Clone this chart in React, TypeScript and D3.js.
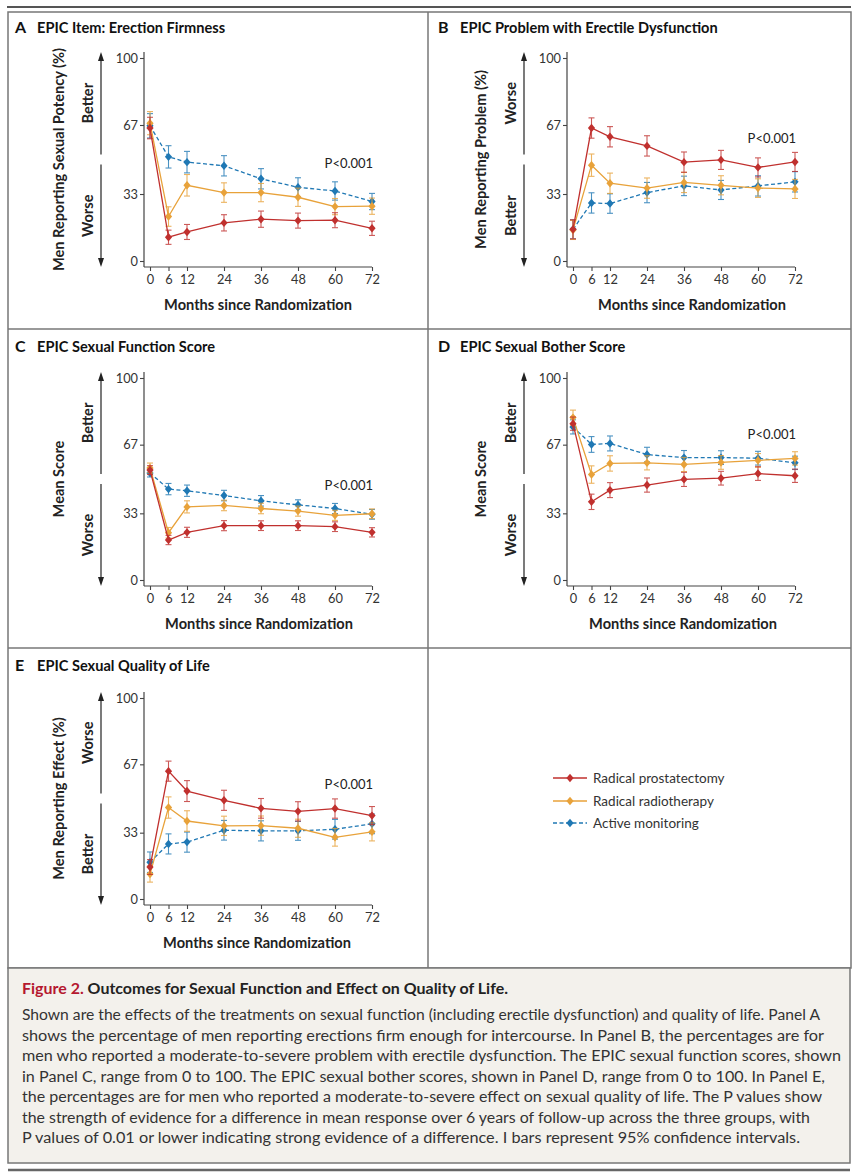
import { useEffect, useRef } from "react";
import * as d3 from "d3";

// shared axes
const months = [0, 6, 12, 24, 36, 48, 60, 72];
const yTicks = [0, 33, 67, 100];
const groupNames = ["Radical prostatectomy", "Radical radiotherapy", "Active monitoring"];
const groupColors = ["#c0302e", "#e8a23a", "#1f78b4"];

// Panel A: erection firmness (%)
const aSurgery = [65.5, 11.7, 14.3, 18.8, 20.6, 19.9, 20.1, 16.1];
const aSurgeryCi = [5.3, 3.5, 3.7, 4, 4, 3.7, 3.7, 3.5];
const aRadio = [67.9, 21.9, 37.3, 33.7, 33.7, 31.4, 26.8, 27.0];
const aRadioCi = [5.7, 4.8, 5.3, 4.8, 4.5, 4.5, 4, 4];
const aMonitor = [66.6, 51.3, 48.7, 46.9, 40.5, 36.3, 34.5, 29.3];
const aMonitorCi = [6, 5.5, 5.3, 5, 5, 4.7, 4.5, 4];

// Panel B: problem with erectile dysfunction (%)
const bSurgery = [15.6, 65.5, 61.2, 56.7, 48.7, 49.8, 46.1, 48.8];
const bSurgeryCi = [4.7, 5, 5, 5, 5, 4.7, 4.7, 4.7];
const bRadio = [15.3, 47.2, 38.3, 35.9, 38.7, 37.3, 35.9, 35.5];
const bRadioCi = [4.7, 5.5, 5, 5, 5, 4.7, 4.6, 4.7];
const bMonitor = [15.6, 28.6, 28.3, 33.7, 37.0, 35.0, 37.0, 39.0];
const bMonitorCi = [4.7, 5, 4.8, 5, 4.8, 4.7, 5, 5];

// Panel C: sexual function score
const cSurgery = [54.4, 19.8, 23.6, 26.9, 26.9, 26.9, 26.4, 23.6];
const cSurgeryCi = [2.2, 2.3, 2.5, 2.5, 2.4, 2.4, 2.4, 2.3];
const cRadio = [55.5, 23.4, 36.2, 36.9, 35.4, 34.1, 32.0, 32.8];
const cRadioCi = [2.4, 2.6, 3, 2.6, 2.6, 2.5, 2.5, 2.4];
const cMonitor = [53.0, 45.0, 44.2, 41.8, 39.2, 37.2, 35.4, 32.5];
const cMonitorCi = [2, 2.8, 2.8, 2.6, 2.6, 2.5, 2.5, 2.4];

// Panel D: sexual bother score
const dSurgery = [77.4, 38.7, 44.5, 47.0, 49.8, 50.4, 52.7, 51.6];
const dSurgeryCi = [3.3, 3.8, 3.7, 3.5, 3.5, 3.4, 3.4, 3.3];
const dRadio = [80.4, 52.2, 57.7, 58.0, 57.2, 58.2, 59.2, 60.2];
const dRadioCi = [3.7, 4.3, 3.8, 3.5, 3.5, 3.4, 3.4, 3.3];
const dMonitor = [75.8, 67.1, 67.6, 62.1, 60.6, 60.6, 60.3, 58.0];
const dMonitorCi = [3.5, 3.9, 3.7, 3.6, 3.5, 3.4, 3.4, 3.3];

// Panel E: sexual quality of life (%)
const eSurgery = [15.9, 63.6, 53.7, 49.1, 45.1, 43.6, 45.0, 41.5];
const eSurgeryCi = [3.7, 5, 5.2, 5, 4.9, 4.8, 4.8, 4.5];
const eRadio = [12.4, 45.5, 38.8, 36.4, 36.5, 35.2, 30.7, 33.4];
const eRadioCi = [4, 5.3, 5.1, 4.8, 4.8, 4.5, 4.4, 4.5];
const eMonitor = [18.3, 27.4, 28.3, 34.2, 33.9, 33.9, 34.7, 37.4];
const eMonitorCi = [5.1, 5, 5, 4.9, 5, 4.7, 4.9, 4.9];

const panelLetters = ["A", "B", "C", "D", "E"];
const panelTitles = [
  "EPIC Item: Erection Firmness",
  "EPIC Problem with Erectile Dysfunction",
  "EPIC Sexual Function Score",
  "EPIC Sexual Bother Score",
  "EPIC Sexual Quality of Life",
];
const yTitles = [
  "Men Reporting Sexual Potency (%)",
  "Men Reporting Problem (%)",
  "Mean Score",
  "Mean Score",
  "Men Reporting Effect (%)",
];
const topLabels = ["Better", "Worse", "Better", "Better", "Worse"];
const bottomLabels = ["Worse", "Better", "Worse", "Worse", "Better"];
const pText = "P<0.001";
const pMonth = [64.5, 64.5, 64.5, 64.5, 64.5];
const pValueY = [48.3, 60.6, 47, 72, 57.2];

const seriesByPanel = [
  [[aSurgery, aSurgeryCi], [aRadio, aRadioCi], [aMonitor, aMonitorCi]],
  [[bSurgery, bSurgeryCi], [bRadio, bRadioCi], [bMonitor, bMonitorCi]],
  [[cSurgery, cSurgeryCi], [cRadio, cRadioCi], [cMonitor, cMonitorCi]],
  [[dSurgery, dSurgeryCi], [dRadio, dRadioCi], [dMonitor, dMonitorCi]],
  [[eSurgery, eSurgeryCi], [eRadio, eRadioCi], [eMonitor, eMonitorCi]],
];

const captionTitleRed = "Figure 2.";
const captionTitle = " Outcomes for Sexual Function and Effect on Quality of Life.";
const captionLines = [
  "Shown are the effects of the treatments on sexual function (including erectile dysfunction) and quality of life. Panel A",
  "shows the percentage of men reporting erections firm enough for intercourse. In Panel B, the percentages are for",
  "men who reported a moderate-to-severe problem with erectile dysfunction. The EPIC sexual function scores, shown",
  "in Panel C, range from 0 to 100. The EPIC sexual bother scores, shown in Panel D, range from 0 to 100. In Panel E,",
  "the percentages are for men who reported a moderate-to-severe effect on sexual quality of life. The P values show",
  "the strength of evidence for a difference in mean response over 6 years of follow-up across the three groups, with",
  "P values of 0.01 or lower indicating strong evidence of a difference. I bars represent 95% confidence intervals.",
];
const captionLineEnds = [820, 824, 841, 825, 822, 810, 800];

const FONT = "Lato, 'Open Sans', sans-serif";

export default function App() {
  const ref = useRef<SVGSVGElement | null>(null);

  useEffect(() => {
    if (!ref.current) return;
    document.body.style.margin = "0";
    const svg = d3.select(ref.current);
    svg.selectAll("*").remove();

    const W = 859;
    const H = 1175;
    svg.attr("width", W).attr("height", H).style("font-family", FONT);

    // layout of the grid cells
    const colAxis = [144, 567];
    const colX0 = [150, 573];
    const colX72 = [372, 795];
    const colYTitle = [59, 481];
    const colArrow = [101, 524];
    const colLabel = [88, 511];
    const colLetter = [15, 438];
    const colTitle = [37, 460];
    const rowY100 = [58, 378, 698];
    const rowY0 = [261, 580, 899];
    const rowTitle = [33, 352, 671];
    const xTitleCenter = [258, 692, 259, 683, 257];

    const boldSize = 14.6;
    const frame = "#777";
    svg.append("rect").attr("x", 0).attr("y", 0).attr("width", W).attr("height", H).attr("fill", "#fff");
    svg.append("line").attr("x1", 7).attr("x2", 851).attr("y1", 7).attr("y2", 7)
      .attr("stroke", "#555").attr("stroke-width", 2);
    svg.append("rect").attr("x", 8).attr("y", 12).attr("width", 843).attr("height", 956)
      .attr("fill", "none").attr("stroke", frame).attr("stroke-width", 1.5);
    [329, 648].forEach((y) => {
      svg.append("line").attr("x1", 8).attr("x2", 851).attr("y1", y).attr("y2", y)
        .attr("stroke", frame).attr("stroke-width", 1.5);
    });
    svg.append("line").attr("x1", 428).attr("x2", 428).attr("y1", 12).attr("y2", 968)
      .attr("stroke", frame).attr("stroke-width", 1.5);

    const diamond = "M0,-4.2L3.6,0L0,4.2L-3.6,0Z";

    seriesByPanel.forEach((series, p) => {
      const col = p % 2;
      const row = Math.floor(p / 2);
      const x = d3.scaleLinear().domain([0, 72]).range([colX0[col], colX72[col]]);
      const y = d3.scaleLinear().domain([0, 100]).range([rowY0[row], rowY100[row]]);
      const g = svg.append("g");
      const axisY = rowY0[row] + 6;
      const axisX = colAxis[col];

      // panel heading
      g.append("text").attr("x", colLetter[col]).attr("y", rowTitle[row])
        .attr("font-size", 16).attr("font-weight", 700).attr("fill", "#111").text(panelLetters[p]);
      g.append("text").attr("x", colTitle[col]).attr("y", rowTitle[row])
        .attr("font-size", boldSize).attr("font-weight", 700).attr("fill", "#111").text(panelTitles[p]);

      // y axis
      const yAxis = g.append("g").attr("transform", `translate(${axisX},0)`)
        .call(d3.axisLeft(y).tickValues(yTicks).tickSize(4).tickPadding(2).tickSizeOuter(0));
      yAxis.select(".domain").remove();
      yAxis.selectAll("line").attr("stroke", "#444").attr("stroke-width", 1.1);
      yAxis.selectAll("text").attr("font-size", 12.8).attr("fill", "#333").style("font-family", FONT);
      g.append("line").attr("x1", axisX).attr("x2", axisX)
        .attr("y1", rowY100[row] - 6).attr("y2", axisY)
        .attr("stroke", "#444").attr("stroke-width", 1.2);

      // x axis
      const xAxis = g.append("g").attr("transform", `translate(0,${axisY})`)
        .call(d3.axisBottom(x).tickValues(months).tickSize(4).tickPadding(4).tickSizeOuter(0));
      xAxis.select(".domain").remove();
      xAxis.selectAll("line").attr("stroke", "#444").attr("stroke-width", 1.1);
      xAxis.selectAll("text").attr("font-size", 12.8).attr("fill", "#333").style("font-family", FONT);
      g.append("line").attr("x1", axisX).attr("x2", x(72))
        .attr("y1", axisY).attr("y2", axisY)
        .attr("stroke", "#444").attr("stroke-width", 1.2);
      g.append("text").attr("x", xTitleCenter[p]).attr("y", axisY + 43)
        .attr("text-anchor", "middle").attr("font-size", boldSize).attr("font-weight", 700)
        .attr("fill", "#222").text("Months since Randomization");

      // y title and arrow
      const top = rowY100[row] - 6;
      const bot = axisY;
      const mid = (top + bot) / 2;
      g.append("text")
        .attr("transform", `translate(${colYTitle[col] + 5},${mid}) rotate(-90)`)
        .attr("text-anchor", "middle").attr("font-size", boldSize).attr("font-weight", 700)
        .attr("fill", "#222").text(yTitles[p]);
      const ax = colArrow[col];
      g.append("line").attr("x1", ax).attr("x2", ax).attr("y1", top + 7).attr("y2", mid - 5)
        .attr("stroke", "#222").attr("stroke-width", 1.2);
      g.append("line").attr("x1", ax).attr("x2", ax).attr("y1", mid + 5).attr("y2", bot - 7)
        .attr("stroke", "#222").attr("stroke-width", 1.2);
      g.append("path").attr("d", `M${ax},${top}L${ax + 3},${top + 9}L${ax - 3},${top + 9}Z`).attr("fill", "#222");
      g.append("path").attr("d", `M${ax},${bot}L${ax + 3},${bot - 9}L${ax - 3},${bot - 9}Z`).attr("fill", "#222");
      g.append("text")
        .attr("transform", `translate(${colLabel[col] + 5},${(top + mid - 5) / 2}) rotate(-90)`)
        .attr("text-anchor", "middle").attr("font-size", boldSize).attr("font-weight", 700)
        .attr("fill", "#222").text(topLabels[p]);
      g.append("text")
        .attr("transform", `translate(${colLabel[col] + 5},${(bot + mid + 5) / 2}) rotate(-90)`)
        .attr("text-anchor", "middle").attr("font-size", boldSize).attr("font-weight", 700)
        .attr("fill", "#222").text(bottomLabels[p]);

      // P value
      g.append("text").attr("x", x(pMonth[p])).attr("y", y(pValueY[p])).attr("dy", "0.36em")
        .attr("text-anchor", "middle").attr("font-size", 13).attr("fill", "#222").text(pText);

      // series: monitoring first, then radiotherapy, then surgery on top
      [2, 1, 0].forEach((s) => {
        const [vals, ci] = series[s] as number[][];
        const color = groupColors[s];
        const pts = months.map((m, i) => ({ m, v: vals[i], c: ci[i] }));
        const sg = g.append("g");
        sg.selectAll("g.err").data(pts).enter().append("g").attr("class", "err")
          .each(function (d) {
            const e = d3.select(this);
            e.append("line").attr("x1", x(d.m)).attr("x2", x(d.m))
              .attr("y1", y(d.v - d.c)).attr("y2", y(d.v + d.c));
            e.append("line").attr("x1", x(d.m) - 3).attr("x2", x(d.m) + 3)
              .attr("y1", y(d.v - d.c)).attr("y2", y(d.v - d.c));
            e.append("line").attr("x1", x(d.m) - 3).attr("x2", x(d.m) + 3)
              .attr("y1", y(d.v + d.c)).attr("y2", y(d.v + d.c));
          })
          .attr("stroke", color).attr("stroke-width", 1.1).attr("opacity", 0.8);
        const line = d3.line<{ m: number; v: number }>().x((d) => x(d.m)).y((d) => y(d.v));
        sg.append("path").attr("d", line(pts)).attr("fill", "none").attr("stroke", color)
          .attr("stroke-width", 1.3).attr("stroke-dasharray", s === 2 ? "4,2.5" : null);
        sg.selectAll("path.pt").data(pts).enter().append("path").attr("class", "pt")
          .attr("d", diamond).attr("transform", (d) => `translate(${x(d.m)},${y(d.v)})`)
          .attr("fill", color);
      });
    });

    // legend in the empty cell
    const legendRows = [778, 801, 823];
    groupNames.forEach((name, i) => {
      const lg = svg.append("g").attr("transform", `translate(553,${legendRows[i]})`);
      lg.append("line").attr("x1", 0).attr("x2", 34).attr("y1", 0).attr("y2", 0)
        .attr("stroke", groupColors[i]).attr("stroke-width", 1.3)
        .attr("stroke-dasharray", i === 2 ? "4,2.5" : null);
      lg.append("path").attr("d", diamond).attr("transform", "translate(17,0)").attr("fill", groupColors[i]);
      lg.append("text").attr("x", 40).attr("y", 0).attr("dy", "0.35em")
        .attr("font-size", 13.5).attr("fill", "#333").text(name);
    });

    // caption
    svg.append("rect").attr("x", 8).attr("y", 968).attr("width", 842).attr("height", 195)
      .attr("fill", "#f3f1ec").attr("stroke", frame).attr("stroke-width", 1.5);
    const ct = svg.append("text").attr("x", 22).attr("y", 994).attr("font-size", 15.5)
      .attr("font-weight", 700).attr("textLength", 486).attr("lengthAdjust", "spacingAndGlyphs");
    ct.append("tspan").attr("fill", "#b5182f").text(captionTitleRed);
    ct.append("tspan").attr("fill", "#222").text(captionTitle);
    captionLines.forEach((t, i) => {
      svg.append("text").attr("x", 22).attr("y", 1020 + i * 20.5)
        .attr("font-size", 14.5).attr("fill", "#333")
        .attr("textLength", captionLineEnds[i] - 22).attr("lengthAdjust", "spacingAndGlyphs")
        .text(t);
    });
    svg.append("line").attr("x1", 8).attr("x2", 850).attr("y1", 1170).attr("y2", 1170)
      .attr("stroke", "#666").attr("stroke-width", 2.5);
  }, []);

  return <svg ref={ref} style={{ display: "block" }}></svg>;
}
